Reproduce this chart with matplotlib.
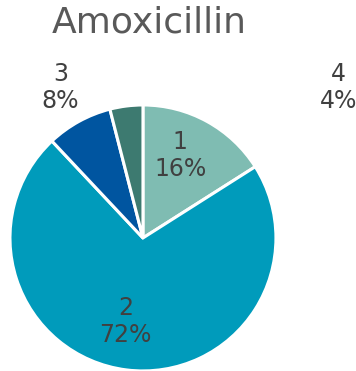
import matplotlib
matplotlib.use("Agg")
import matplotlib.pyplot as plt

categories = ["1", "2", "3", "4"]
values = [16, 72, 8, 4]
colors = ["#7fbcb2", "#009bbb", "#0055a0", "#3d7a70"]

fig = plt.figure(figsize=(3.56, 3.71), dpi=100)
ax = fig.add_axes([0, 0, 1, 1])
ax.pie(values, colors=colors, startangle=90, counterclock=False, radius=1.0,
       center=(0, 0), wedgeprops=dict(edgecolor="white", linewidth=2.2))
ax.set_xlim(-1.075, 1.602)
ax.set_ylim(-1.0, 1.789)
ax.set_aspect("equal")
ax.axis("off")

label_pos = [(0.28, 0.62), (-0.13, -0.63), (-0.62, 1.13), (1.47, 1.13)]
total = sum(values)
for cat, v, (x, y) in zip(categories, values, label_pos):
    ax.text(x, y, f"{cat}\n{round(100*v/total)}%", ha="center", va="center",
            fontsize=17, color="#404040", linespacing=1.15)

ax.text(0.05, 1.62, "Amoxicillin", ha="center", va="center", fontsize=26, color="#595959")

fig.savefig("out.png", dpi=100)
